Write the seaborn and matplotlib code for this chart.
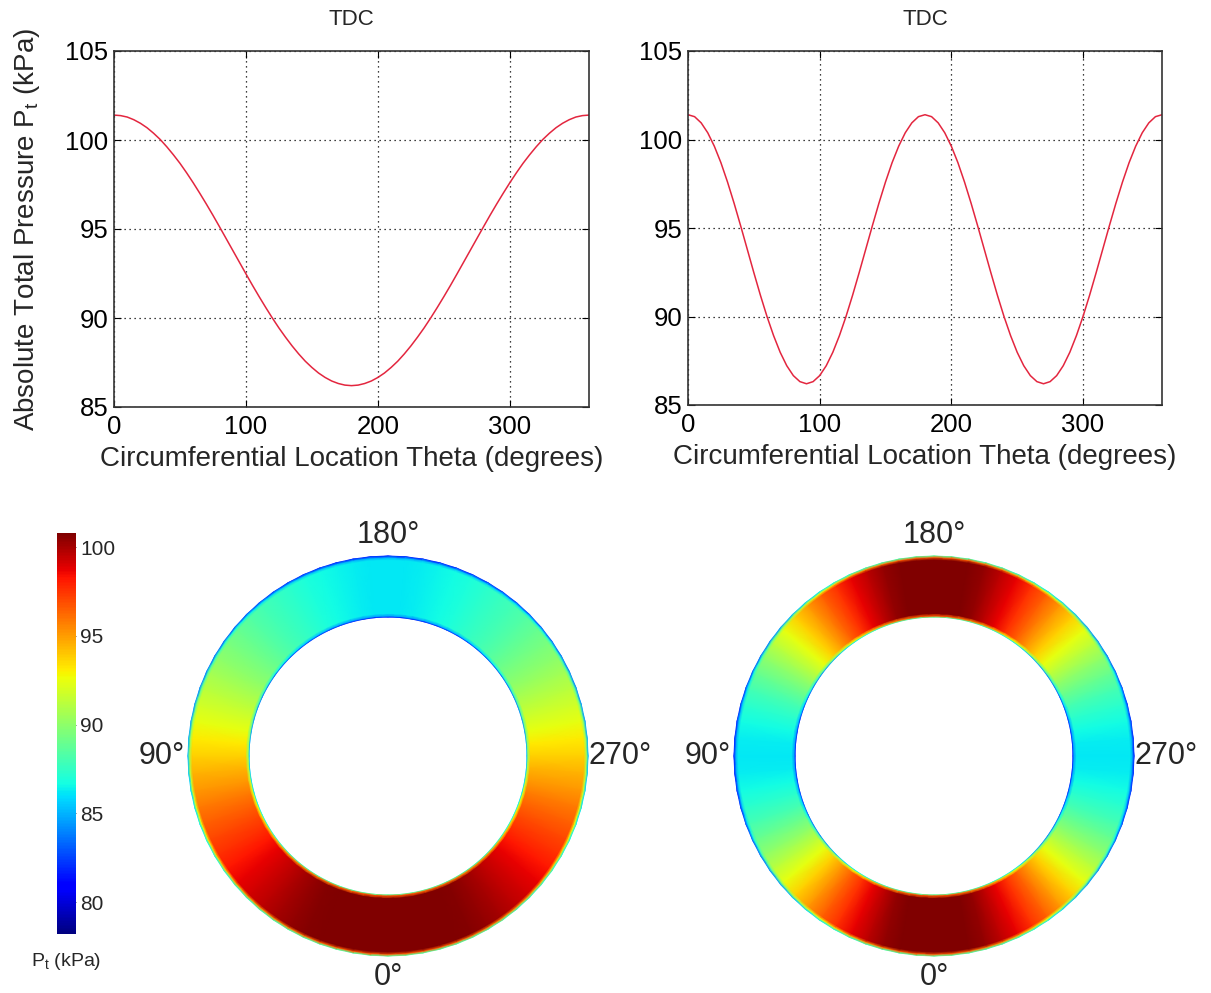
import numpy as np
import pandas as pd
import matplotlib
matplotlib.use("Agg")
import matplotlib as mpl
import matplotlib.pyplot as plt
import seaborn as sns

# ---------------- data (every 5 degrees) ----------------
theta_deg = list(range(0, 361, 5))
p_case1 = [101.40, 101.37, 101.29, 101.14, 100.94, 100.69, 100.38, 100.03, 99.62,
           99.17, 98.69, 98.16, 97.60, 97.01, 96.40, 95.77, 95.12, 94.46, 93.80,
           93.14, 92.48, 91.83, 91.20, 90.59, 90.00, 89.44, 88.92, 88.43, 87.98,
           87.57, 87.22, 86.91, 86.66, 86.46, 86.32, 86.23, 86.20,
           86.23, 86.32, 86.46, 86.66, 86.91, 87.22, 87.57, 87.98, 88.43, 88.92,
           89.44, 90.00, 90.59, 91.20, 91.83, 92.48, 93.14, 93.80, 94.46, 95.12,
           95.77, 96.40, 97.01, 97.60, 98.16, 98.69, 99.17, 99.62, 100.03, 100.38,
           100.69, 100.94, 101.14, 101.29, 101.37, 101.40]
p_case2 = [101.40, 101.29, 100.94, 100.38, 99.62, 98.69, 97.60, 96.40, 95.12,
           93.80, 92.48, 91.20, 90.00, 88.92, 87.98, 87.22, 86.66, 86.32, 86.20,
           86.32, 86.66, 87.22, 87.98, 88.92, 90.00, 91.20, 92.48, 93.80, 95.12,
           96.40, 97.60, 98.69, 99.62, 100.38, 100.94, 101.29, 101.40,
           101.29, 100.94, 100.38, 99.62, 98.69, 97.60, 96.40, 95.12, 93.80,
           92.48, 91.20, 90.00, 88.92, 87.98, 87.22, 86.66, 86.32, 86.20,
           86.32, 86.66, 87.22, 87.98, 88.92, 90.00, 91.20, 92.48, 93.80, 95.12,
           96.40, 97.60, 98.69, 99.62, 100.38, 100.94, 101.29, 101.40]
titles = ["TDC", "TDC"]
x_ticks = [0, 100, 200, 300]
y_ticks = [85, 90, 95, 100, 105]
cbar_ticks = [80, 85, 90, 95, 100]
ring_labels = ["0\u00b0", "90\u00b0", "180\u00b0", "270\u00b0"]
# radial wall profile across the annulus (fraction of gap -> factor)
wall_pos = [0.0, 0.02, 0.06, 0.94, 0.98, 1.0]
wall_factor = [0.45, 0.8, 1.0, 1.0, 0.8, 0.45]
c_min, c_max = 78.2, 100.8

# ---------------- style ----------------
sns.set_theme(style="ticks")
plt.rcParams["font.family"] = ["Liberation Sans", "DejaVu Sans"]
plt.rcParams["mathtext.default"] = "regular"

W, H = 1211, 993
fig = plt.figure(figsize=(W / 100, H / 100), dpi=100)
fig.patch.set_facecolor("white")


def fx(px):
    return px / W


def fy(py):
    return 1 - py / H


line_color = "#e3263f"
boxes = [(114, 51, 589, 407), (688, 51, 1162, 405)]
for i, (p, box) in enumerate(zip([p_case1, p_case2], boxes)):
    l, t, r, b = box
    ax = fig.add_axes([fx(l), fy(b), (r - l) / W, (b - t) / H])
    df = pd.DataFrame({"theta": theta_deg, "p": p})
    sns.lineplot(data=df, x="theta", y="p", ax=ax, color=line_color, lw=1.1)
    ax.set_xlim(0, 360)
    ax.set_ylim(85, 105)
    ax.set_xticks(x_ticks)
    ax.set_yticks(y_ticks)
    ax.grid(True, color="black", linestyle=(0, (1, 3)), linewidth=0.9)
    ax.tick_params(axis="y", direction="in", length=5, width=0.8, labelsize=18.5,
                   right=True, pad=4, colors="black")
    ax.tick_params(axis="x", direction="in", length=5, width=0.8, labelsize=18.5,
                   top=True, pad=6, colors="black")
    for s in ax.spines.values():
        s.set_color("#333333")
        s.set_linewidth(1.2)
    ax.set_title(titles[i], fontsize=16, pad=19)
    ax.set_xlabel("Circumferential Location Theta (degrees)", fontsize=20, labelpad=5)
    if i == 0:
        ax.set_ylabel("Absolute Total Pressure P$_t$ (kPa)", fontsize=20, labelpad=17)
    else:
        ax.set_ylabel("")

# ---------------- rings ----------------
r_in, r_out = 139.0, 200.0
norm = mpl.colors.Normalize(vmin=c_min, vmax=c_max)
cmap = mpl.colormaps["jet"]
th = np.deg2rad(np.array(theta_deg, dtype=float))
R = r_in + (r_out - r_in) * np.array(wall_pos)
TH, RR = np.meshgrid(th, R)
X = -RR * np.sin(TH)
Y = -RR * np.cos(TH)

for p, cx in zip([p_case1, p_case2], [388, 934]):
    cy = 756
    half = 230
    ax = fig.add_axes([fx(cx - half), fy(cy + half), 2 * half / W, 2 * half / H])
    C = c_min + (np.array(p)[None, :] - c_min) * np.array(wall_factor)[:, None]
    ax.pcolormesh(X, Y, C, shading="gouraud", cmap=cmap, norm=norm)
    ax.set_xlim(-half, half)
    ax.set_ylim(-half, half)
    ax.axis("off")
    fs = 22
    ax.text(0, -r_out - 6, ring_labels[0], ha="center", va="top", fontsize=fs)
    ax.text(-r_out - 3, 0, ring_labels[1], ha="right", va="center", fontsize=fs)
    ax.text(0, r_out + 6, ring_labels[2], ha="center", va="bottom", fontsize=fs)
    ax.text(r_out + 1, 0, ring_labels[3], ha="left", va="center", fontsize=fs)

# ---------------- colorbar ----------------
cax = fig.add_axes([fx(57), fy(934), 19 / W, (934 - 533) / H])
sm = mpl.cm.ScalarMappable(norm=norm, cmap=cmap)
cb = fig.colorbar(sm, cax=cax, ticks=cbar_ticks)
cb.outline.set_visible(False)
cax.tick_params(length=3, width=0.6, direction="in", color="#333333",
                labelsize=15, pad=3)
fig.text(fx(66), fy(962), "P$_t$ (kPa)", ha="center", va="center", fontsize=14)

fig.savefig("out.png", dpi=100)
